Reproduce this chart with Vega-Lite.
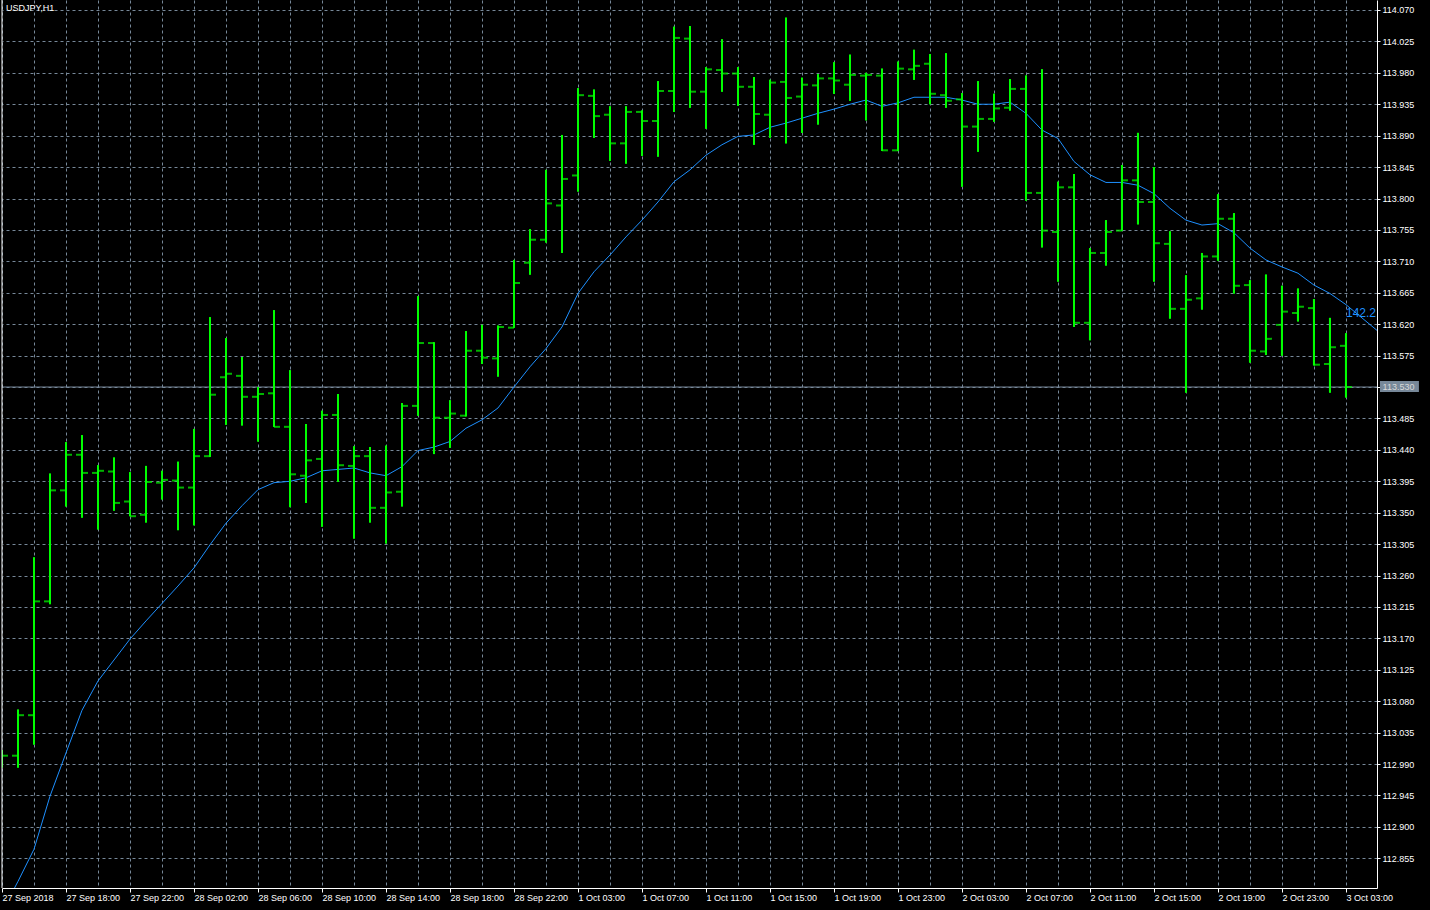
{
  "$schema": "https://vega.github.io/schema/vega-lite/v6.json",
  "width": 1375,
  "height": 888,
  "autosize": {"type": "none"},
  "padding": {"left": 2, "top": 0, "right": 53, "bottom": 22},
  "background": "#000000",
  "config": {"view": {"stroke": null}, "font": "Liberation Sans"},
  "datasets": {
    "bars": [
      {"k":0,"o":113.000,"h":113.010,"l":112.985,"c":113.002},
      {"k":1,"o":113.002,"h":113.068,"l":112.985,"c":113.060},
      {"k":2,"o":113.060,"h":113.286,"l":113.018,"c":113.223},
      {"k":3,"o":113.223,"h":113.406,"l":113.219,"c":113.382},
      {"k":4,"o":113.382,"h":113.451,"l":113.359,"c":113.433},
      {"k":5,"o":113.433,"h":113.461,"l":113.343,"c":113.407},
      {"k":6,"o":113.407,"h":113.418,"l":113.326,"c":113.410},
      {"k":7,"o":113.409,"h":113.429,"l":113.353,"c":113.364},
      {"k":8,"o":113.366,"h":113.408,"l":113.345,"c":113.345},
      {"k":9,"o":113.347,"h":113.417,"l":113.336,"c":113.394},
      {"k":10,"o":113.393,"h":113.410,"l":113.369,"c":113.397},
      {"k":11,"o":113.396,"h":113.423,"l":113.325,"c":113.386},
      {"k":12,"o":113.386,"h":113.470,"l":113.332,"c":113.431},
      {"k":13,"o":113.431,"h":113.630,"l":113.430,"c":113.519},
      {"k":14,"o":113.544,"h":113.600,"l":113.476,"c":113.549},
      {"k":15,"o":113.546,"h":113.573,"l":113.475,"c":113.516},
      {"k":16,"o":113.516,"h":113.530,"l":113.452,"c":113.520},
      {"k":17,"o":113.521,"h":113.640,"l":113.473,"c":113.473},
      {"k":18,"o":113.473,"h":113.554,"l":113.358,"c":113.405},
      {"k":19,"o":113.403,"h":113.477,"l":113.364,"c":113.425},
      {"k":20,"o":113.427,"h":113.496,"l":113.330,"c":113.490},
      {"k":21,"o":113.490,"h":113.520,"l":113.394,"c":113.418},
      {"k":22,"o":113.417,"h":113.445,"l":113.313,"c":113.431},
      {"k":23,"o":113.431,"h":113.444,"l":113.336,"c":113.357},
      {"k":24,"o":113.357,"h":113.446,"l":113.306,"c":113.379},
      {"k":25,"o":113.380,"h":113.507,"l":113.359,"c":113.503},
      {"k":26,"o":113.503,"h":113.660,"l":113.489,"c":113.593},
      {"k":27,"o":113.593,"h":113.594,"l":113.434,"c":113.486},
      {"k":28,"o":113.486,"h":113.511,"l":113.443,"c":113.492},
      {"k":29,"o":113.489,"h":113.610,"l":113.488,"c":113.582},
      {"k":30,"o":113.582,"h":113.619,"l":113.563,"c":113.572},
      {"k":31,"o":113.571,"h":113.618,"l":113.545,"c":113.616},
      {"k":32,"o":113.615,"h":113.712,"l":113.615,"c":113.679},
      {"k":33,"o":113.708,"h":113.756,"l":113.691,"c":113.741},
      {"k":34,"o":113.741,"h":113.841,"l":113.737,"c":113.793},
      {"k":35,"o":113.790,"h":113.891,"l":113.722,"c":113.828},
      {"k":36,"o":113.833,"h":113.958,"l":113.810,"c":113.948},
      {"k":37,"o":113.947,"h":113.956,"l":113.887,"c":113.918},
      {"k":38,"o":113.920,"h":113.932,"l":113.854,"c":113.879},
      {"k":39,"o":113.879,"h":113.932,"l":113.850,"c":113.924},
      {"k":40,"o":113.924,"h":113.926,"l":113.861,"c":113.911},
      {"k":41,"o":113.911,"h":113.968,"l":113.860,"c":113.954},
      {"k":42,"o":113.954,"h":114.046,"l":113.924,"c":114.030},
      {"k":43,"o":114.029,"h":114.047,"l":113.930,"c":113.953},
      {"k":44,"o":113.953,"h":113.988,"l":113.900,"c":113.985},
      {"k":45,"o":113.984,"h":114.028,"l":113.953,"c":113.979},
      {"k":46,"o":113.979,"h":113.988,"l":113.933,"c":113.960},
      {"k":47,"o":113.960,"h":113.974,"l":113.877,"c":113.921},
      {"k":48,"o":113.920,"h":113.970,"l":113.887,"c":113.966},
      {"k":49,"o":113.967,"h":114.059,"l":113.879,"c":113.944},
      {"k":50,"o":113.946,"h":113.973,"l":113.894,"c":113.963},
      {"k":51,"o":113.962,"h":113.978,"l":113.906,"c":113.972},
      {"k":52,"o":113.972,"h":113.995,"l":113.950,"c":113.969},
      {"k":53,"o":113.963,"h":114.006,"l":113.940,"c":113.977},
      {"k":54,"o":113.976,"h":113.980,"l":113.912,"c":113.977},
      {"k":55,"o":113.976,"h":113.986,"l":113.868,"c":113.869},
      {"k":56,"o":113.869,"h":113.996,"l":113.868,"c":113.986},
      {"k":57,"o":113.985,"h":114.013,"l":113.970,"c":113.990},
      {"k":58,"o":113.993,"h":114.007,"l":113.935,"c":113.950},
      {"k":59,"o":113.948,"h":114.008,"l":113.930,"c":113.940},
      {"k":60,"o":113.942,"h":113.951,"l":113.817,"c":113.903},
      {"k":61,"o":113.903,"h":113.968,"l":113.867,"c":113.914},
      {"k":62,"o":113.914,"h":113.950,"l":113.910,"c":113.929},
      {"k":63,"o":113.930,"h":113.971,"l":113.926,"c":113.957},
      {"k":64,"o":113.957,"h":113.976,"l":113.797,"c":113.808},
      {"k":65,"o":113.808,"h":113.985,"l":113.730,"c":113.754},
      {"k":66,"o":113.752,"h":113.824,"l":113.681,"c":113.816},
      {"k":67,"o":113.816,"h":113.835,"l":113.616,"c":113.622},
      {"k":68,"o":113.622,"h":113.729,"l":113.597,"c":113.722},
      {"k":69,"o":113.722,"h":113.769,"l":113.704,"c":113.752},
      {"k":70,"o":113.754,"h":113.848,"l":113.754,"c":113.826},
      {"k":71,"o":113.826,"h":113.894,"l":113.763,"c":113.795},
      {"k":72,"o":113.795,"h":113.845,"l":113.681,"c":113.736},
      {"k":73,"o":113.735,"h":113.753,"l":113.628,"c":113.642},
      {"k":74,"o":113.642,"h":113.690,"l":113.522,"c":113.655},
      {"k":75,"o":113.657,"h":113.722,"l":113.641,"c":113.717},
      {"k":76,"o":113.717,"h":113.806,"l":113.711,"c":113.771},
      {"k":77,"o":113.771,"h":113.779,"l":113.664,"c":113.675},
      {"k":78,"o":113.676,"h":113.683,"l":113.565,"c":113.582},
      {"k":79,"o":113.581,"h":113.691,"l":113.576,"c":113.599},
      {"k":80,"o":113.619,"h":113.675,"l":113.575,"c":113.638},
      {"k":81,"o":113.636,"h":113.671,"l":113.624,"c":113.645},
      {"k":82,"o":113.643,"h":113.656,"l":113.561,"c":113.562},
      {"k":83,"o":113.563,"h":113.629,"l":113.522,"c":113.587},
      {"k":84,"o":113.589,"h":113.607,"l":113.515,"c":113.530}
    ],
    "ma": [
      {"k":0,"ma":112.778},{"k":1,"ma":112.822},{"k":2,"ma":112.868},{"k":3,"ma":112.944},
      {"k":4,"ma":113.006},{"k":5,"ma":113.067},{"k":6,"ma":113.109},{"k":7,"ma":113.139},
      {"k":8,"ma":113.169},{"k":9,"ma":113.195},{"k":10,"ma":113.220},{"k":11,"ma":113.245},
      {"k":12,"ma":113.271},{"k":13,"ma":113.304},{"k":14,"ma":113.335},{"k":15,"ma":113.360},
      {"k":16,"ma":113.383},{"k":17,"ma":113.393},{"k":18,"ma":113.395},{"k":19,"ma":113.400},
      {"k":20,"ma":113.410},{"k":21,"ma":113.412},{"k":22,"ma":113.414},{"k":23,"ma":113.407},
      {"k":24,"ma":113.403},{"k":25,"ma":113.416},{"k":26,"ma":113.439},{"k":27,"ma":113.444},
      {"k":28,"ma":113.452},{"k":29,"ma":113.471},{"k":30,"ma":113.483},{"k":31,"ma":113.500},
      {"k":32,"ma":113.530},{"k":33,"ma":113.559},{"k":34,"ma":113.585},{"k":35,"ma":113.616},
      {"k":36,"ma":113.664},{"k":37,"ma":113.695},{"k":38,"ma":113.719},{"k":39,"ma":113.745},
      {"k":40,"ma":113.769},{"k":41,"ma":113.795},{"k":42,"ma":113.824},{"k":43,"ma":113.841},
      {"k":44,"ma":113.862},{"k":45,"ma":113.877},{"k":46,"ma":113.889},{"k":47,"ma":113.891},
      {"k":48,"ma":113.902},{"k":49,"ma":113.908},{"k":50,"ma":113.915},{"k":51,"ma":113.922},
      {"k":52,"ma":113.928},{"k":53,"ma":113.935},{"k":54,"ma":113.941},{"k":55,"ma":113.932},
      {"k":56,"ma":113.937},{"k":57,"ma":113.945},{"k":58,"ma":113.945},{"k":59,"ma":113.945},
      {"k":60,"ma":113.941},{"k":61,"ma":113.935},{"k":62,"ma":113.935},{"k":63,"ma":113.938},
      {"k":64,"ma":113.922},{"k":65,"ma":113.898},{"k":66,"ma":113.886},{"k":67,"ma":113.853},
      {"k":68,"ma":113.834},{"k":69,"ma":113.823},{"k":70,"ma":113.823},{"k":71,"ma":113.819},
      {"k":72,"ma":113.807},{"k":73,"ma":113.786},{"k":74,"ma":113.769},{"k":75,"ma":113.762},
      {"k":76,"ma":113.764},{"k":77,"ma":113.751},{"k":78,"ma":113.729},{"k":79,"ma":113.712},
      {"k":80,"ma":113.702},{"k":81,"ma":113.693},{"k":82,"ma":113.676},{"k":83,"ma":113.664},
      {"k":84,"ma":113.648},{"k":85,"ma":113.629},{"k":86,"ma":113.610}
    ]
  },
  "layer": [
    {
      "data": {"name": "bars"},
      "mark": {"type": "rule", "color": "#00ff00", "strokeWidth": 2, "clip": true},
      "encoding": {
        "x": {
          "field": "k", "type": "quantitative",
          "scale": {"domain": [0, 85.94], "nice": false, "zero": false},
          "axis": {
            "title": null,
            "values": [0,2,4,6,8,10,12,14,16,18,20,22,24,26,28,30,32,34,36,38,40,42,44,46,48,50,52,54,56,58,60,62,64,66,68,70,72,74,76,78,80,82,84],
            "tickCount": 200,
            "grid": true, "gridColor": "#778899", "gridDash": [3, 3], "gridWidth": 1,
            "domainColor": "#ffffff", "domainWidth": 1,
            "tickSize": 4,
            "tickColor": {"condition": {"test": "datum.value % 4 !== 0", "value": "transparent"}, "value": "#ffffff"},
            "labelExpr": "datum.value % 4 === 0 ? ['27 Sep 2018','27 Sep 18:00','27 Sep 22:00','28 Sep 02:00','28 Sep 06:00','28 Sep 10:00','28 Sep 14:00','28 Sep 18:00','28 Sep 22:00','1 Oct 03:00','1 Oct 07:00','1 Oct 11:00','1 Oct 15:00','1 Oct 19:00','1 Oct 23:00','2 Oct 03:00','2 Oct 07:00','2 Oct 11:00','2 Oct 15:00','2 Oct 19:00','2 Oct 23:00','3 Oct 03:00'][datum.value / 4] : ''",
            "labelAlign": "left", "labelColor": "#ffffff", "labelFont": "Liberation Sans", "labelFontSize": 9,
            "labelPadding": 1, "labelOverlap": false, "labelBound": false, "labelFlush": false
          }
        },
        "y": {
          "field": "l", "type": "quantitative",
          "scale": {"domain": [112.8125, 114.0843], "nice": false, "zero": false},
          "axis": {
            "title": null, "orient": "right",
            "values": [112.855,112.9,112.945,112.99,113.035,113.08,113.125,113.17,113.215,113.26,113.305,113.35,113.395,113.44,113.485,113.53,113.575,113.62,113.665,113.71,113.755,113.8,113.845,113.89,113.935,113.98,114.025,114.07],
            "tickCount": 200,
            "format": ".3f",
            "grid": true, "gridColor": "#778899", "gridDash": [3, 3], "gridWidth": 1,
            "domainColor": "#ffffff", "tickColor": "#ffffff", "tickSize": 3,
            "labelColor": "#ffffff", "labelFont": "Liberation Sans", "labelFontSize": 9, "labelPadding": 2,
            "labelOverlap": false, "labelBound": false, "labelFlush": false
          }
        },
        "y2": {"field": "h"}
      }
    },
    {
      "data": {"values": [{}]},
      "mark": {"type": "rule", "color": "#778899", "strokeWidth": 1},
      "encoding": {"y": {"datum": 113.53}}
    },
    {
      "data": {"name": "ma"},
      "mark": {"type": "line", "color": "#1e90ff", "strokeWidth": 1, "clip": true},
      "encoding": {
        "x": {"field": "k", "type": "quantitative"},
        "y": {"field": "ma", "type": "quantitative"}
      }
    },
    {
      "data": {"name": "bars"},
      "mark": {"type": "rule", "color": "#00ff00", "strokeWidth": 2, "clip": true},
      "encoding": {
        "x": {"field": "k", "type": "quantitative"},
        "y": {"field": "l", "type": "quantitative"},
        "y2": {"field": "h"}
      }
    },
    {
      "data": {"name": "bars"},
      "mark": {"type": "tick", "orient": "horizontal", "color": "#00ff00", "size": 6, "thickness": 2, "xOffset": -3, "clip": true},
      "encoding": {
        "x": {"field": "k", "type": "quantitative"},
        "y": {"field": "o", "type": "quantitative"}
      }
    },
    {
      "data": {"name": "bars"},
      "mark": {"type": "tick", "orient": "horizontal", "color": "#00ff00", "size": 6, "thickness": 2, "xOffset": 3, "clip": true},
      "encoding": {
        "x": {"field": "k", "type": "quantitative"},
        "y": {"field": "c", "type": "quantitative"}
      }
    },
    {
      "data": {"values": [{}]},
      "mark": {"type": "rule", "color": "#ffffff", "strokeWidth": 1},
      "encoding": {"x": {"datum": 0}}
    },
    {
      "data": {"values": [{"label": "USDJPY,H1"}]},
      "mark": {"type": "text", "align": "left", "baseline": "middle", "color": "#ffffff", "font": "Liberation Sans", "fontSize": 9},
      "encoding": {
        "x": {"datum": 0.25},
        "y": {"datum": 114.0728},
        "text": {"field": "label"}
      }
    },
    {
      "data": {"values": [{"label": "142.2"}]},
      "mark": {"type": "text", "align": "left", "baseline": "middle", "color": "#1e90ff", "font": "Liberation Sans", "fontSize": 12},
      "encoding": {
        "x": {"datum": 84.0},
        "y": {"datum": 113.636},
        "text": {"field": "label"}
      }
    },
    {
      "data": {"values": [{}]},
      "mark": {"type": "rect", "color": "#778899", "clip": false},
      "encoding": {
        "x": {"datum": 86.125},
        "x2": {"datum": 88.56},
        "y": {"datum": 113.5386},
        "y2": {"datum": 113.5229}
      }
    },
    {
      "data": {"values": [{"label": "113.530"}]},
      "mark": {"type": "text", "align": "left", "baseline": "middle", "color": "#d8d8d8", "font": "Liberation Sans", "fontSize": 9, "clip": false},
      "encoding": {
        "x": {"datum": 86.29},
        "y": {"datum": 113.5307},
        "text": {"field": "label"}
      }
    }
  ]
}
